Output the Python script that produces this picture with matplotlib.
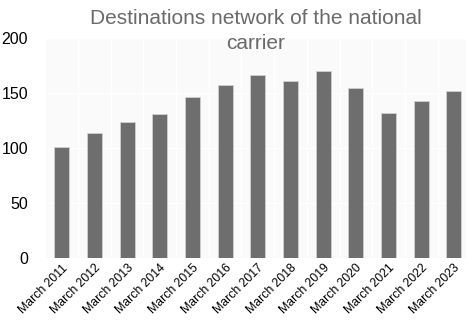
import numpy as np
import matplotlib.pyplot as plt

plt.rcParams['font.family'] = ['Liberation Sans', 'DejaVu Sans']

# destinations served each March
years = ["March 2011", "March 2012", "March 2013", "March 2014", "March 2015",
         "March 2016", "March 2017", "March 2018", "March 2019", "March 2020",
         "March 2021", "March 2022", "March 2023"]
destinations = [101, 114, 124, 131, 146, 157, 166, 161, 170, 155, 132, 143, 152]
yticks = [0, 50, 100, 150, 200]


def main():
    fig = plt.figure(figsize=(4.68, 3.25), dpi=100)
    ax = fig.add_axes([46 / 468, 1 - 258 / 325, 420 / 468, 220 / 325])
    ax.set_facecolor("#fafafa")

    x = np.arange(len(years))
    ax.bar(x, destinations, width=0.46, color="#6e6e6e",
           edgecolor="#d0d0d0", linewidth=0.6, zorder=3)

    ax.set_xlim(-0.48, len(years) - 0.63)
    ax.set_ylim(0, 200)
    ax.set_yticks(yticks)
    ax.set_xticks(x)
    ax.set_xticklabels(years, rotation=45, ha="right", rotation_mode="anchor",
                       fontsize=8.8)
    ax.tick_params(axis="y", labelsize=11.5, length=0, pad=13)
    ax.tick_params(axis="x", length=0, pad=3)

    # faint white grid lines between the bars and at each y tick
    ax.set_xticks(x[:-1] + 0.5, minor=True)
    ax.tick_params(axis="x", which="minor", length=0)
    ax.grid(True, which="minor", axis="x", color="white", linewidth=1, zorder=0)
    ax.grid(True, which="major", axis="y", color="white", linewidth=1, zorder=0)

    for s in ax.spines.values():
        s.set_visible(False)

    fig.text(256 / 468, 1 - 31 / 325, "Destinations network of the national\ncarrier",
             fontsize=15, color="#6a6a6a", ha="center", va="center",
             linespacing=1.45)

    fig.savefig("out.png", dpi=100)


if __name__ == "__main__":
    main()
